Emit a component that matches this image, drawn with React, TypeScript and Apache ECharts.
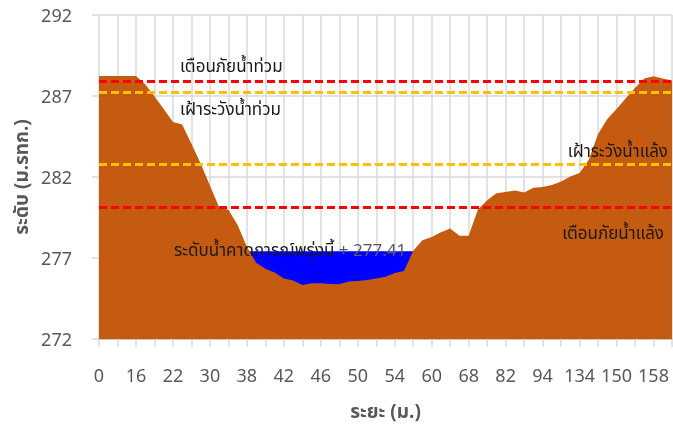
import React, { useEffect, useRef } from "react";
import * as echarts from "echarts";

const distances: string[] = [
  "0", "4", "8", "12", "16", "18", "19", "20", "22", "24", "26", "28", "30", "32", "34", "36",
  "38", "39", "40", "41", "42", "43", "44", "45", "46", "47", "48", "49", "50", "51", "52", "53",
  "54", "55", "57", "58", "60", "62", "64", "66", "68", "72", "75", "78", "82", "85", "88", "91",
  "94", "104", "114", "124", "134", "138", "142", "146", "150", "152", "154", "156", "158", "160", "162",
];

const groundLevel: number[] = [
  288.24, 288.24, 288.24, 288.24, 288.24, 287.72, 286.98, 286.19, 285.39, 285.24, 284.05, 282.83,
  281.48, 280.13, 279.98, 279.03, 277.69, 276.71, 276.34, 276.1, 275.73, 275.61, 275.33, 275.44,
  275.44, 275.39, 275.38, 275.55, 275.58, 275.64, 275.73, 275.85, 276.08, 276.19, 277.45, 278.09,
  278.3, 278.59, 278.82, 278.38, 278.38, 280.0, 280.56, 280.99, 281.08, 281.16, 281.05, 281.33,
  281.39, 281.5, 281.72, 282.03, 282.24, 283.07, 284.66, 285.58, 286.19, 286.86, 287.5, 288.08,
  288.22, 288.08, 287.96,
];

const forecastLevel = 277.41;
const waterStartIndex = 16;
const waterEndIndex = 34;

const floodWarning = 287.88;
const floodWatch = 287.22;
const droughtWatch = 282.78;
const droughtWarning = 280.15;

const yTicks: number[] = [272, 277, 282, 287, 292];

const FONT = "'Noto Sans', 'Noto Sans Thai', Tahoma, sans-serif";

export default function App() {
  const ref = useRef<HTMLDivElement>(null);

  useEffect(() => {
    if (!ref.current) return;
    const chart = echarts.init(ref.current, undefined, { renderer: "svg" });

    const waterData = distances.map((_, i) =>
      i >= waterStartIndex && i <= waterEndIndex ? forecastLevel : "-"
    );

    const refLine = (value: number, color: string) => ({
      yAxis: value,
      lineStyle: { color, type: [8, 4], width: 3 },
      label: { show: false },
      symbol: "none",
    });

    chart.setOption({
      animation: false,
      textStyle: { fontFamily: FONT },
      grid: { left: 99, right: 1, top: 15, bottom: 83, containLabel: false },
      xAxis: {
        type: "category",
        data: distances,
        boundaryGap: false,
        name: "ระยะ (ม.)",
        nameLocation: "middle",
        nameGap: 62,
        nameTextStyle: { color: "#595959", fontSize: 19, fontWeight: "bold", fontFamily: FONT },
        axisLine: { lineStyle: { color: "#BFBFBF", width: 1.5 } },
        axisTick: { show: true, interval: 1, length: 8, lineStyle: { color: "#D9D9D9", width: 1.5 } },
        axisLabel: { interval: 3, color: "#595959", fontSize: 18, margin: 27, fontFamily: FONT },
        splitLine: { show: true, interval: 1, lineStyle: { color: "#D9D9D9", width: 1.5 } },
      },
      yAxis: {
        type: "value",
        min: yTicks[0],
        max: yTicks[yTicks.length - 1],
        interval: 5,
        name: "ระดับ (ม.รทก.)",
        nameLocation: "middle",
        nameGap: 62,
        nameRotate: 90,
        nameTextStyle: { color: "#595959", fontSize: 19, fontWeight: "bold", fontFamily: FONT },
        axisLine: { show: false },
        axisTick: { show: true, length: 7, lineStyle: { color: "#D9D9D9", width: 1.5 } },
        axisLabel: { color: "#595959", fontSize: 18, margin: 27, fontFamily: FONT },
        splitLine: { show: true, lineStyle: { color: "#D9D9D9", width: 1.5 } },
      },
      series: [
        {
          name: "water",
          type: "line",
          data: waterData,
          symbol: "none",
          lineStyle: { width: 0 },
          areaStyle: { color: "#0000FF", opacity: 1, origin: "start" },
          z: 2,
        },
        {
          name: "ground",
          type: "line",
          data: groundLevel,
          symbol: "none",
          lineStyle: { width: 0 },
          areaStyle: { color: "#C55A11", opacity: 1, origin: "start" },
          z: 3,
          markLine: {
            silent: true,
            symbol: "none",
            z: 5,
            data: [
              refLine(floodWarning, "#FF0000"),
              refLine(floodWatch, "#FFC000"),
              refLine(droughtWatch, "#FFC000"),
              refLine(droughtWarning, "#FF0000"),
            ],
          },
        },
      ],
      graphic: [
        {
          type: "text",
          left: 180,
          top: 57,
          z: 10,
          style: { text: "เตือนภัยน้ำท่วม", fill: "#1A1A1A", font: `17px ${FONT}` },
        },
        {
          type: "text",
          left: 180,
          top: 100,
          z: 10,
          style: { text: "เฝ้าระวังน้ำท่วม", fill: "#1A1A1A", font: `17px ${FONT}` },
        },
        {
          type: "text",
          right: 5,
          top: 142,
          z: 10,
          style: { text: "เฝ้าระวังน้ำแล้ง", fill: "#1A1A1A", font: `17px ${FONT}` },
        },
        {
          type: "text",
          right: 9,
          top: 224,
          z: 10,
          style: { text: "เตือนภัยน้ำแล้ง", fill: "#1A1A1A", font: `17px ${FONT}` },
        },
        {
          type: "text",
          left: 174,
          top: 241,
          z: 10,
          style: {
            text: "{a|ระดับน้ำคาดการณ์พรุ่งนี้}{b| + " + forecastLevel.toFixed(2) + "}",
            rich: {
              a: { fill: "#1A1A1A", font: `17px ${FONT}` },
              b: { fill: "#595959", font: `17px ${FONT}` },
            },
          },
        },
      ],
    });

    return () => chart.dispose();
  }, []);

  return (
    <div
      ref={ref}
      style={{ position: "fixed", left: 0, top: 0, width: 673, height: 425 }}
    />
  );
}
